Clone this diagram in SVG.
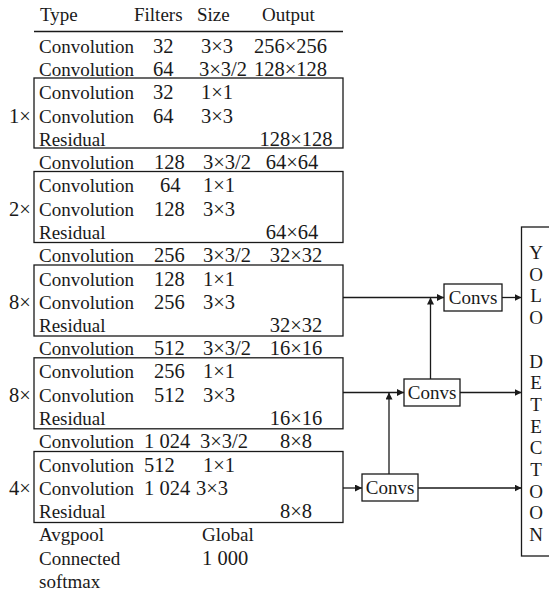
<svg xmlns="http://www.w3.org/2000/svg" width="549" height="595" viewBox="0 0 549 595">
  <style>
    text { font-family: "Liberation Serif", "Times New Roman", serif; font-size: 19px; fill: #1a1a1a; }
    .n { font-size: 20.5px; }
    .mid { text-anchor: middle; }
    .frame { fill: none; stroke: #1a1a1a; stroke-width: 1.3; }
    .wire { fill: none; stroke: #1a1a1a; stroke-width: 1.3; }
  </style>
  <defs>
    <marker id="arrow" viewBox="0 0 10 10" refX="10" refY="5" markerWidth="7" markerHeight="7" markerUnits="userSpaceOnUse" orient="auto">
      <path d="M0,0 L10,5 L0,10 z" fill="#1a1a1a"/>
    </marker>
  </defs>

  <rect width="549" height="595" fill="#ffffff"/>

  <!-- table header -->
  <g id="header">
    <text x="40" y="21">Type</text>
    <text x="134" y="21">Filters</text>
    <text x="197" y="21">Size</text>
    <text x="262" y="21">Output</text>
    <line class="frame" x1="34" y1="31.5" x2="343" y2="31.5"/>
  </g>

  <!-- stem layers -->
  <g id="stem">
    <text x="39" y="52.5">Convolution</text><text class="n" x="153" y="52.5">32</text><text class="n" x="201" y="52.5">3×3</text><text class="n" x="254" y="52.5">256×256</text>
    <text x="39" y="76">Convolution</text><text class="n" x="153" y="76">64</text><text class="n" x="199" y="76">3×3/2</text><text class="n" x="254" y="76">128×128</text>
  </g>

  <!-- residual stage 1 -->
  <g id="stage1">
    <rect class="frame" x="34" y="78" width="309" height="70"/>
    <text class="n" x="9" y="122.5">1×</text>
    <text x="39" y="99.3">Convolution</text><text class="n" x="153" y="99.3">32</text><text class="n" x="201" y="99.3">1×1</text>
    <text x="39" y="122.5">Convolution</text><text class="n" x="153" y="122.5">64</text><text class="n" x="201" y="122.5">3×3</text>
    <text x="39" y="145.7">Residual</text><text class="n mid" x="296" y="145.7">128×128</text>
  </g>

  <text id="down2" x="39" y="169">Convolution<tspan class="n" x="154">128</tspan><tspan class="n" x="203">3×3/2</tspan><tspan class="n" x="292" text-anchor="middle">64×64</tspan></text>

  <!-- residual stage 2 -->
  <g id="stage2">
    <rect class="frame" x="34" y="171.5" width="309" height="71"/>
    <text class="n" x="9" y="215.6">2×</text>
    <text x="39" y="192.4">Convolution</text><text class="n" x="160" y="192.4">64</text><text class="n" x="203" y="192.4">1×1</text>
    <text x="39" y="215.6">Convolution</text><text class="n" x="154" y="215.6">128</text><text class="n" x="203" y="215.6">3×3</text>
    <text x="39" y="238.8">Residual</text><text class="n mid" x="292" y="238.8">64×64</text>
  </g>

  <text id="down3" x="39" y="262.3">Convolution<tspan class="n" x="154">256</tspan><tspan class="n" x="203">3×3/2</tspan><tspan class="n" x="296" text-anchor="middle">32×32</tspan></text>

  <!-- residual stage 3 -->
  <g id="stage3">
    <rect class="frame" x="34" y="265" width="309" height="71"/>
    <text class="n" x="9" y="308.7">8×</text>
    <text x="39" y="285.5">Convolution</text><text class="n" x="154" y="285.5">128</text><text class="n" x="203" y="285.5">1×1</text>
    <text x="39" y="308.7">Convolution</text><text class="n" x="154" y="308.7">256</text><text class="n" x="203" y="308.7">3×3</text>
    <text x="39" y="331.9">Residual</text><text class="n mid" x="296" y="331.9">32×32</text>
  </g>

  <text id="down4" x="39" y="355.1">Convolution<tspan class="n" x="154">512</tspan><tspan class="n" x="203">3×3/2</tspan><tspan class="n" x="296" text-anchor="middle">16×16</tspan></text>

  <!-- residual stage 4 -->
  <g id="stage4">
    <rect class="frame" x="34" y="357.8" width="309" height="71"/>
    <text class="n" x="9" y="401.5">8×</text>
    <text x="39" y="378.3">Convolution</text><text class="n" x="154" y="378.3">256</text><text class="n" x="203" y="378.3">1×1</text>
    <text x="39" y="401.5">Convolution</text><text class="n" x="154" y="401.5">512</text><text class="n" x="203" y="401.5">3×3</text>
    <text x="39" y="424.7">Residual</text><text class="n mid" x="296" y="424.7">16×16</text>
  </g>

  <text id="down5" x="39" y="448.2">Convolution<tspan class="n" x="144">1 024</tspan><tspan class="n" x="200">3×3/2</tspan><tspan class="n" x="296" text-anchor="middle">8×8</tspan></text>

  <!-- residual stage 5 -->
  <g id="stage5">
    <rect class="frame" x="34" y="451.5" width="309" height="71"/>
    <text class="n" x="9" y="495">4×</text>
    <text x="39" y="471.8">Convolution</text><text class="n" x="144" y="471.8">512</text><text class="n" x="203" y="471.8">1×1</text>
    <text x="39" y="495">Convolution</text><text class="n" x="144" y="495">1 024</text><text class="n" x="196" y="495">3×3</text>
    <text x="39" y="518.2">Residual</text><text class="n mid" x="296" y="518.2">8×8</text>
  </g>

  <!-- classifier head -->
  <g id="head">
    <text x="39" y="541.4">Avgpool</text><text x="202" y="541.4">Global</text>
    <text x="39" y="564.6">Connected</text><text class="n" x="202" y="564.6">1 000</text>
    <text x="39" y="587.8">softmax</text>
  </g>

  <!-- connectors -->
  <g id="connectors">
    <path class="wire" d="M343,297.5 H444" marker-end="url(#arrow)"/>
    <path class="wire" d="M502,297.5 H521.5" marker-end="url(#arrow)"/>
    <path class="wire" d="M430.5,379 V297.5" marker-end="url(#arrow)"/>
    <path class="wire" d="M343,392.5 H404" marker-end="url(#arrow)"/>
    <path class="wire" d="M460,392.5 H521.5" marker-end="url(#arrow)"/>
    <path class="wire" d="M389,474 V392.5" marker-end="url(#arrow)"/>
    <path class="wire" d="M343,488 H362" marker-end="url(#arrow)"/>
    <path class="wire" d="M418,488 H521.5" marker-end="url(#arrow)"/>
  </g>

  <!-- Convs blocks -->
  <g id="convs1">
    <rect class="frame" x="444" y="284" width="58" height="27"/>
    <text x="473" y="304" class="mid">Convs</text>
  </g>
  <g id="convs2">
    <rect class="frame" x="404" y="379" width="56" height="27"/>
    <text x="432" y="399" class="mid">Convs</text>
  </g>
  <g id="convs3">
    <rect class="frame" x="362" y="474" width="56" height="27"/>
    <text x="390" y="494" class="mid">Convs</text>
  </g>

  <!-- detection head -->
  <g id="yolo">
    <rect class="frame" x="521.5" y="227" width="40" height="329"/>
    <text class="mid" x="536" y="259">Y<tspan x="536" dy="21.7">O</tspan><tspan x="536" dy="21.7">L</tspan><tspan x="536" dy="21.7">O</tspan><tspan x="536" dy="43.4">D</tspan><tspan x="536" dy="21.7">E</tspan><tspan x="536" dy="21.7">T</tspan><tspan x="536" dy="21.7">E</tspan><tspan x="536" dy="21.7">C</tspan><tspan x="536" dy="21.7">T</tspan><tspan x="536" dy="21.7">O</tspan><tspan x="536" dy="21.7">O</tspan><tspan x="536" dy="21.7">N</tspan></text>
  </g>
</svg>
